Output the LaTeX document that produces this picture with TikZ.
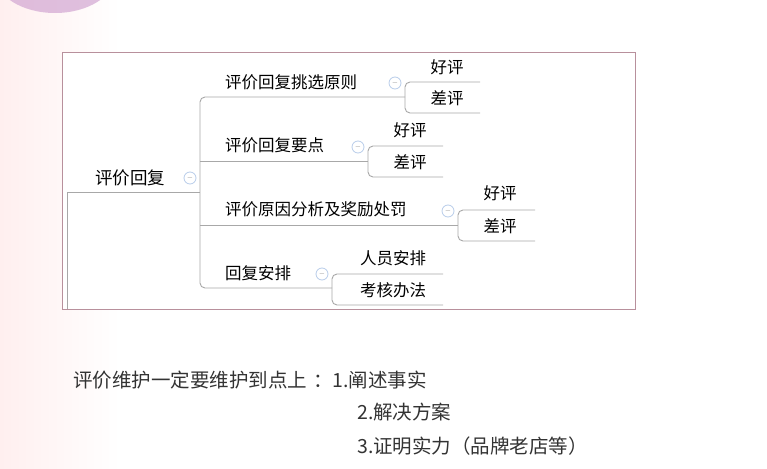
\documentclass[tikz,border=0pt]{standalone}
\usepackage{fontspec}
\setmainfont{Noto Sans CJK SC}
\usetikzlibrary{positioning}
\definecolor{linegray}{HTML}{A8A8A8}
\definecolor{framepink}{HTML}{B8909C}
\definecolor{foldblue}{HTML}{B8CCEA}
\definecolor{txtgray}{HTML}{333333}
\tikzset{
  topic/.style={inner sep=1pt, font=\fontsize{16.5}{18}\selectfont, text=black},
  note/.style={inner sep=0pt, anchor=west, font=\fontsize{19.5}{22}\selectfont, text=txtgray},
  link/.style={draw=linegray, line width=0.9pt, rounded corners=5pt},
  fold/.style={circle, draw=foldblue, fill=white, line width=0.8pt, inner sep=0pt, minimum size=12pt,
    label={[text=gray, inner sep=0pt, font=\scriptsize]center:$-$}}
}
\begin{document}
\begin{tikzpicture}[x=1pt,y=-1pt]
  \useasboundingbox (0,0) rectangle (767,468);
  % background
  \shade[left color=pink!25, right color=white] (0,0) rectangle (120,468);
  \fill[violet!35, opacity=0.7] (55,-25) ellipse (60 and 38);
  \draw[framepink, line width=0.7pt, fill=white] (62,52) rectangle (635,309);

  % root
  \node[topic, font=\fontsize{17.5}{19}\selectfont] (root) at (130,178) {评价回复};
  \node[fold] (f0) at (190,178) {};
  \coordinate (r0) at (67,192);
  \coordinate (r1) at (67,309);
  \draw[link, rounded corners=0pt] (r1) -- (r0) -- (200,192);

  % main branches
  \node[topic, anchor=west] (b1) at (224,82) {评价回复挑选原则};
  \node[topic, anchor=west] (b2) at (224,145) {评价回复要点};
  \node[topic, anchor=west] (b3) at (224,209) {评价原因分析及奖励处罚};
  \node[topic, anchor=west] (b4) at (224,273) {回复安排};
  \draw[link] (405,97) -- (200,97) -- (200,288) -- (332,288);
  \draw[link] (200,161) -- (368,161);
  \draw[link] (200,225) -- (458,225);
  \node[fold] (f1) at (395,83) {};
  \node[fold] (f2) at (358,147) {};
  \node[fold] (f3) at (448,211) {};
  \node[fold] (f4) at (322,274) {};

  % leaves
  \node[topic] (g1) at (447,67) {好评};
  \node[topic] (c1) at (447,98) {差评};
  \draw[link] (480,82) -- (405,82) -- (405,113) -- (480,113);
  \node[topic] (g2) at (410,130) {好评};
  \node[topic] (c2) at (410,162) {差评};
  \draw[link] (443,146) -- (368,146) -- (368,177) -- (443,177);
  \node[topic] (g3) at (500,193) {好评};
  \node[topic] (c3) at (500,226) {差评};
  \draw[link] (535,210) -- (458,210) -- (458,241) -- (535,241);
  \node[topic] (g4) at (393,258) {人员安排};
  \node[topic] (c4) at (393,290) {考核办法};
  \draw[link] (443,274) -- (332,274) -- (332,305) -- (443,305);

  % notes
  \node[note] (n1) at (73,380) {评价维护一定要维护到点上\hspace{0.3em}：1.阐述事实};
  \node[note] (n2) at (357,412) {2.解决方案};
  \node[note] (n3) at (357,446) {3.证明实力（品牌老店等）};
\end{tikzpicture}
\end{document}
